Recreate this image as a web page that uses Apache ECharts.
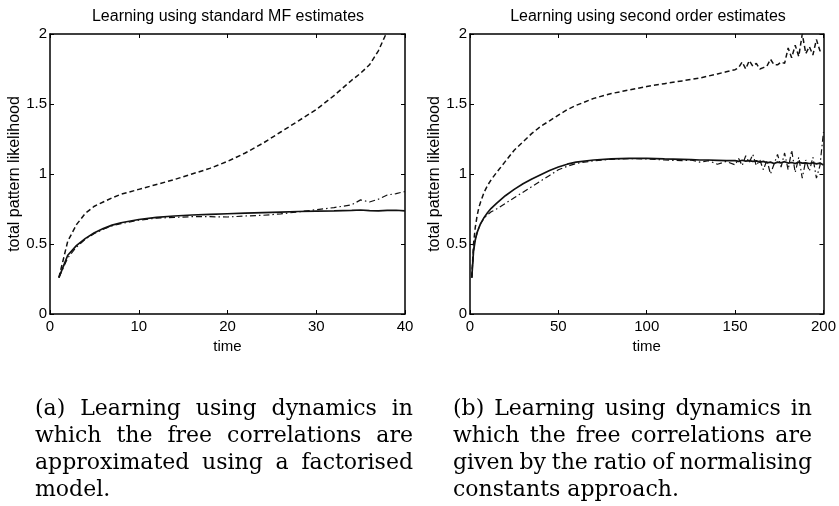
<!DOCTYPE html>
<html>
<head>
<meta charset="utf-8">
<script src="https://cdn.jsdelivr.net/npm/echarts@6.0.0/dist/echarts.min.js"></script>
<style>
html, body { margin: 0; padding: 0; background: #fff; }
#chart { width: 839px; height: 506px; }
</style>
</head>
<body>
<div id="chart"></div>
<script>
// left panel: standard MF estimates
var leftTime = [1, 2, 3, 4, 5, 6, 7, 8, 10, 12, 14, 16, 18, 20, 22, 24, 26, 28, 30, 32, 34, 35, 36, 37, 38, 39, 40];
var leftSolid = [0.26, 0.42, 0.49, 0.54, 0.58, 0.61, 0.635, 0.652, 0.675, 0.69, 0.70, 0.707, 0.712, 0.716, 0.72, 0.724, 0.728, 0.732, 0.735, 0.737, 0.74, 0.743, 0.738, 0.737, 0.74, 0.741, 0.737];
var leftDashed = [0.26, 0.52, 0.64, 0.72, 0.77, 0.80, 0.83, 0.855, 0.89, 0.925, 0.96, 1.0, 1.04, 1.09, 1.15, 1.22, 1.30, 1.38, 1.46, 1.56, 1.67, 1.72, 1.78, 1.88, 2.02, 2.2, 2.4];
var leftDashDot = [0.26, 0.40, 0.48, 0.535, 0.575, 0.605, 0.63, 0.645, 0.67, 0.685, 0.69, 0.695, 0.695, 0.693, 0.70, 0.705, 0.715, 0.73, 0.745, 0.76, 0.78, 0.815, 0.80, 0.82, 0.85, 0.86, 0.875];

// right panel: second order estimates
var rightTime = [1, 2, 3, 4, 5, 6, 8, 10, 12, 15, 20, 25, 30, 35, 40, 45, 50, 55, 60, 70, 80, 90, 100, 110, 120, 125, 130, 135, 140, 145,
  150, 152, 154, 156, 158, 160, 162, 164, 166, 168, 170, 172, 174, 176, 178, 180, 182, 184, 186, 188, 190, 192, 194, 196, 198, 200];
var rightSolid = [0.26, 0.45, 0.53, 0.58, 0.615, 0.645, 0.69, 0.725, 0.755, 0.79, 0.845, 0.89, 0.93, 0.965, 0.995, 1.025, 1.05, 1.07, 1.085, 1.10, 1.108, 1.112, 1.112, 1.108, 1.105, 1.103, 1.10, 1.10, 1.098, 1.095,
  1.095, 1.09, 1.098, 1.092, 1.095, 1.09, 1.094, 1.085, 1.09, 1.08, 1.085, 1.075, 1.085, 1.08, 1.088, 1.078, 1.082, 1.075, 1.085, 1.078, 1.08, 1.075, 1.08, 1.072, 1.078, 1.065];
var rightDashed = [0.26, 0.5, 0.62, 0.7, 0.76, 0.8, 0.87, 0.92, 0.96, 1.01, 1.09, 1.17, 1.23, 1.29, 1.34, 1.38, 1.42, 1.46, 1.49, 1.54, 1.575, 1.60, 1.625, 1.645, 1.665, 1.675, 1.685, 1.70, 1.715, 1.73,
  1.745, 1.76, 1.80, 1.75, 1.81, 1.77, 1.79, 1.75, 1.76, 1.77, 1.82, 1.78, 1.78, 1.80, 1.79, 1.90, 1.83, 1.92, 1.84, 2.0, 1.86, 1.91, 1.85, 1.96, 1.88, 1.87];
var rightDashDot = [0.26, 0.45, 0.53, 0.58, 0.615, 0.645, 0.685, 0.71, 0.73, 0.75, 0.79, 0.83, 0.87, 0.91, 0.95, 0.99, 1.03, 1.055, 1.075, 1.095, 1.105, 1.11, 1.108, 1.10, 1.095, 1.10, 1.085, 1.095, 1.07, 1.09,
  1.065, 1.11, 1.06, 1.13, 1.08, 1.14, 1.06, 1.10, 1.03, 1.10, 1.0, 1.07, 1.14, 1.05, 1.15, 1.03, 1.17, 1.01, 1.12, 0.97, 1.10, 1.02, 1.12, 0.97, 1.06, 1.30];

var titles = ['Learning using standard MF estimates', 'Learning using second order estimates'];
var captionA = ['(a) Learning using dynamics in', 'which the free correlations are', 'approximated using a factorised', 'model.'];
var captionB = ['(b) Learning using dynamics in', 'which the free correlations are', 'given by the ratio of normalising', 'constants approach.'];

var sansFont = 'Liberation Sans, Arial, sans-serif';
var serifFont = 'DejaVu Serif, serif';

function pairs(t, v) {
  return t.map(function (x, i) { return [x, v[i]]; });
}

function xAxis(grid, max, interval, top) {
  return {
    type: 'value', gridIndex: grid, min: 0, max: max, interval: interval,
    position: top ? 'top' : 'bottom',
    axisLine: { show: true, onZero: false, lineStyle: { color: '#000', width: 1.5 } },
    axisTick: { show: true, inside: true, length: 4, lineStyle: { color: '#000', width: 1 } },
    axisLabel: { show: !top, color: '#000', fontFamily: sansFont, fontSize: 15, margin: 5 },
    splitLine: { show: false },
    name: top ? '' : 'time', nameLocation: 'middle', nameGap: 20,
    nameTextStyle: { color: '#000', fontFamily: sansFont, fontSize: 15 }
  };
}

function yAxis(grid, right) {
  return {
    type: 'value', gridIndex: grid, min: 0, max: 2, interval: 0.5,
    position: right ? 'right' : 'left',
    axisLine: { show: true, onZero: false, lineStyle: { color: '#000', width: 1.5 } },
    axisTick: { show: true, inside: true, length: 4, lineStyle: { color: '#000', width: 1 } },
    axisLabel: { show: !right, color: '#000', fontFamily: sansFont, fontSize: 15, margin: 3 },
    splitLine: { show: false },
    name: right ? '' : 'total pattern likelihood', nameLocation: 'middle', nameGap: 22,
    nameTextStyle: { color: '#000', fontFamily: sansFont, fontSize: 16 }
  };
}

function line(axis, t, v, type, width) {
  return {
    type: 'line', xAxisIndex: axis, yAxisIndex: axis, data: pairs(t, v),
    symbol: 'none', clip: true, silent: true, animation: false,
    lineStyle: { color: '#111', width: width, type: type }
  };
}

// justified caption text, one text element per word
var measure = document.createElement('canvas').getContext('2d');
var capSize = 22;
function caption(lines, x0, x1, y0, pitch) {
  measure.font = capSize + 'px ' + serifFont;
  var out = [];
  lines.forEach(function (ln, li) {
    var y = y0 + li * pitch;
    var words = ln.split(' ');
    var widths = words.map(function (w) { return measure.measureText(w).width; });
    var sum = widths.reduce(function (a, b) { return a + b; }, 0);
    var gap = li === lines.length - 1 ? measure.measureText(' ').width : (x1 - x0 - sum) / (words.length - 1);
    var x = x0;
    words.forEach(function (w, i) {
      out.push({
        type: 'text', x: x, y: y, silent: true,
        style: { text: w, fontFamily: serifFont, fontSize: capSize, fill: '#000', verticalAlign: 'middle' }
      });
      x += widths[i] + gap;
    });
  });
  return out;
}

var chart = echarts.init(document.getElementById('chart'));

var graphics = [
  { type: 'text', x: 228, y: 17, silent: true, style: { text: titles[0], fontFamily: sansFont, fontSize: 16, fill: '#000', align: 'center', verticalAlign: 'middle' } },
  { type: 'text', x: 648, y: 17, silent: true, style: { text: titles[1], fontFamily: sansFont, fontSize: 16, fill: '#000', align: 'center', verticalAlign: 'middle' } }
].concat(caption(captionA, 35, 413, 409, 27)).concat(caption(captionB, 453, 812, 409, 27));

chart.setOption({
  backgroundColor: '#fff',
  animation: false,
  grid: [
    { left: 50, top: 34, width: 355, height: 280 },
    { left: 470, top: 34, width: 355, height: 280 }
  ],
  xAxis: [xAxis(0, 40, 10, false), xAxis(0, 40, 10, true), xAxis(1, 200, 50, false), xAxis(1, 200, 50, true)],
  yAxis: [yAxis(0, false), yAxis(0, true), yAxis(1, false), yAxis(1, true)],
  series: [
    line(0, leftTime, leftDashed, [5, 3], 1.5),
    line(0, leftTime, leftDashDot, [6, 3, 1.5, 3], 1.2),
    line(0, leftTime, leftSolid, 'solid', 1.7),
    // right axes are index 2
    line(2, rightTime, rightDashed, [5, 3], 1.5),
    line(2, rightTime, rightDashDot, [6, 3, 1.5, 3], 1.2),
    line(2, rightTime, rightSolid, 'solid', 1.7)
  ],
  graphic: graphics
});
</script>
</body>
</html>
